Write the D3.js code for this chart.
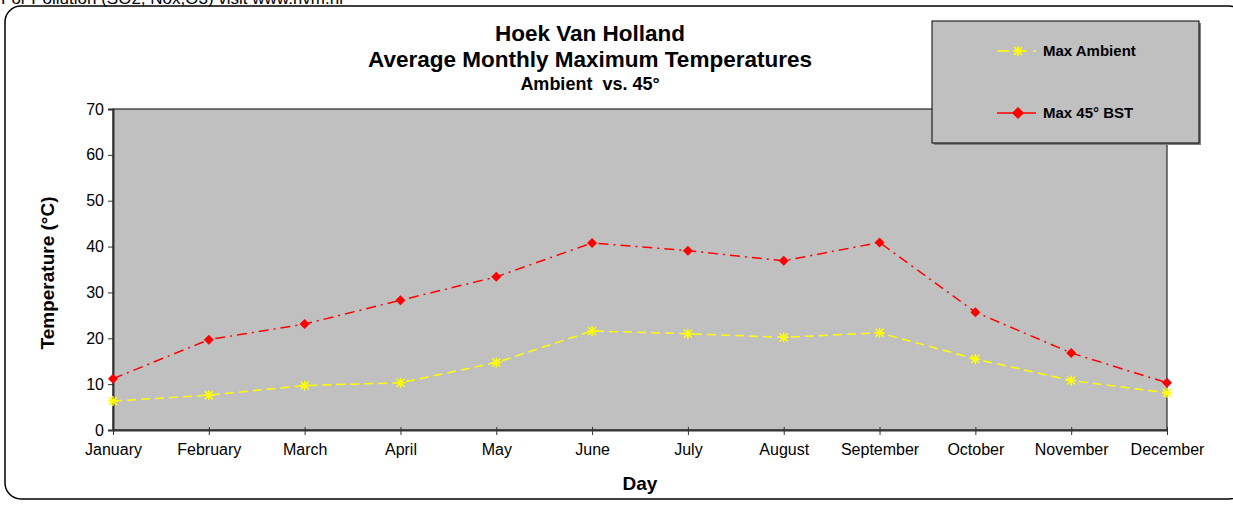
<!DOCTYPE html>
<html lang="en">
<head>
<meta charset="UTF-8">
<script src="https://d3js.org/d3.v7.min.js"></script>
<style>
  body { margin: 0; background: #fff; }
  svg { display: block; font-family: "Liberation Sans", Arial, sans-serif; }
</style>
</head>
<body>
<div id="chart"></div>
<script>
const months = ["January", "February", "March", "April", "May", "June",
                "July", "August", "September", "October", "November", "December"];
const maxAmbient = [6.3, 7.6, 9.7, 10.3, 14.7, 21.6, 21.0, 20.2, 21.2, 15.5, 10.8, 8.1];
const max45BST = [11.2, 19.7, 23.1, 28.3, 33.4, 40.8, 39.1, 36.9, 40.9, 25.7, 16.8, 10.3];
const yTicks = [0, 10, 20, 30, 40, 50, 60, 70];

const width = 1233, height = 506;
const margin = { top: 109, right: 66, bottom: 76, left: 113 };
const innerW = width - margin.left - margin.right;
const innerH = height - margin.top - margin.bottom;

const svg = d3.select("#chart").append("svg")
    .attr("width", width)
    .attr("height", height);

// note at the very top, cut off like in the original
svg.append("text")
    .attr("x", 1)
    .attr("y", 4)
    .attr("font-size", 17)
    .attr("fill", "#000")
    .text("For Pollution (SO2, Nox,O3) visit www.rivm.nl");

// rounded frame
svg.append("rect")
    .attr("x", 5).attr("y", 6)
    .attr("width", 1240).attr("height", 493)
    .attr("rx", 16)
    .attr("fill", "none")
    .attr("stroke", "#000")
    .attr("stroke-width", 1.5);

const x = d3.scalePoint().domain(months).range([0, innerW]);
const y = d3.scaleLinear().domain([0, 70]).range([innerH, 0]);

const g = svg.append("g").attr("transform", `translate(${margin.left},${margin.top})`);

g.append("rect")
    .attr("width", innerW).attr("height", innerH)
    .attr("fill", "#c0c0c0")
    .attr("stroke", "#000")
    .attr("stroke-width", 1);

// y axis
const yAxis = g.append("g")
    .call(d3.axisLeft(y).tickValues(yTicks).tickSize(5).tickPadding(4));
yAxis.select(".domain").attr("stroke", "#333").attr("stroke-width", 2);
yAxis.selectAll(".tick line").attr("stroke", "#333");
yAxis.selectAll("text").attr("font-size", 16).attr("fill", "#000")
    .attr("font-family", "Liberation Sans, Arial, sans-serif");

// x axis
const xAxis = g.append("g")
    .attr("transform", `translate(0,${innerH})`)
    .call(d3.axisBottom(x).tickSizeInner(5).tickSizeOuter(0).tickPadding(9));
xAxis.select(".domain").attr("stroke", "#333").attr("stroke-width", 2);
xAxis.selectAll(".tick line").attr("stroke", "#333").attr("y1", -3);
xAxis.selectAll("text").attr("font-size", 16).attr("fill", "#000")
    .attr("font-family", "Liberation Sans, Arial, sans-serif");

// series
const line = d3.line().x((d, i) => x(months[i])).y(d => y(d));

g.append("path")
    .datum(maxAmbient)
    .attr("fill", "none")
    .attr("stroke", "#ffff00")
    .attr("stroke-width", 1.5)
    .attr("stroke-dasharray", "9,5")
    .attr("d", line);

g.append("path")
    .datum(max45BST)
    .attr("fill", "none")
    .attr("stroke", "#ff0000")
    .attr("stroke-width", 1.5)
    .attr("stroke-dasharray", "10,5,2,5")
    .attr("d", line);

const asterisk = "M-5,0L5,0M0,-5L0,5M-4,-4L4,4M-4,4L4,-4";
const diamond = "M0,-5L5,0L0,5L-5,0Z";

g.selectAll(".amb")
    .data(maxAmbient)
    .enter().append("path")
    .attr("class", "amb")
    .attr("transform", (d, i) => `translate(${x(months[i])},${y(d)})`)
    .attr("d", asterisk)
    .attr("stroke", "#ffff00")
    .attr("stroke-width", 1.5)
    .attr("fill", "none");

g.selectAll(".bst")
    .data(max45BST)
    .enter().append("path")
    .attr("class", "bst")
    .attr("transform", (d, i) => `translate(${x(months[i])},${y(d)})`)
    .attr("d", diamond)
    .attr("fill", "#ff0000");

// titles
const title = svg.append("g").attr("text-anchor", "middle").attr("font-weight", "bold");
title.append("text").attr("x", 590).attr("y", 41).attr("font-size", 22.5).text("Hoek Van Holland");
title.append("text").attr("x", 590).attr("y", 67).attr("font-size", 22.5).text("Average Monthly Maximum Temperatures");
title.append("text").attr("x", 590).attr("y", 90).attr("font-size", 18).attr("xml:space", "preserve").text("Ambient  vs. 45°");

svg.append("text")
    .attr("transform", "translate(54,273) rotate(-90)")
    .attr("text-anchor", "middle")
    .attr("font-weight", "bold")
    .attr("font-size", 19)
    .text("Temperature (°C)");

svg.append("text")
    .attr("x", 640).attr("y", 490)
    .attr("text-anchor", "middle")
    .attr("font-weight", "bold")
    .attr("font-size", 19)
    .text("Day");

// legend
const legend = svg.append("g").attr("transform", "translate(932,21)");
legend.append("rect")
    .attr("x", 2).attr("y", 2)
    .attr("width", 267).attr("height", 122)
    .attr("fill", "#808080");
legend.append("rect")
    .attr("width", 267).attr("height", 122)
    .attr("fill", "#c0c0c0")
    .attr("stroke", "#000")
    .attr("stroke-width", 1);

const legendItems = [
    { name: "Max Ambient", color: "#ffff00", dash: "12,6", marker: asterisk, fill: "none", ly: 30 },
    { name: "Max 45° BST", color: "#ff0000", dash: null, marker: diamond, fill: "#ff0000", ly: 92 }
];
legendItems.forEach(item => {
    legend.append("line")
        .attr("x1", 65).attr("x2", 104)
        .attr("y1", item.ly).attr("y2", item.ly)
        .attr("stroke", item.color)
        .attr("stroke-width", 1.5)
        .attr("stroke-dasharray", item.dash);
    legend.append("path")
        .attr("transform", `translate(86,${item.ly})`)
        .attr("d", item.marker)
        .attr("stroke", item.color)
        .attr("stroke-width", 1.5)
        .attr("fill", item.fill);
    legend.append("text")
        .attr("x", 111).attr("y", item.ly + 5)
        .attr("font-size", 15)
        .attr("font-weight", "bold")
        .text(item.name);
});
</script>
</body>
</html>
